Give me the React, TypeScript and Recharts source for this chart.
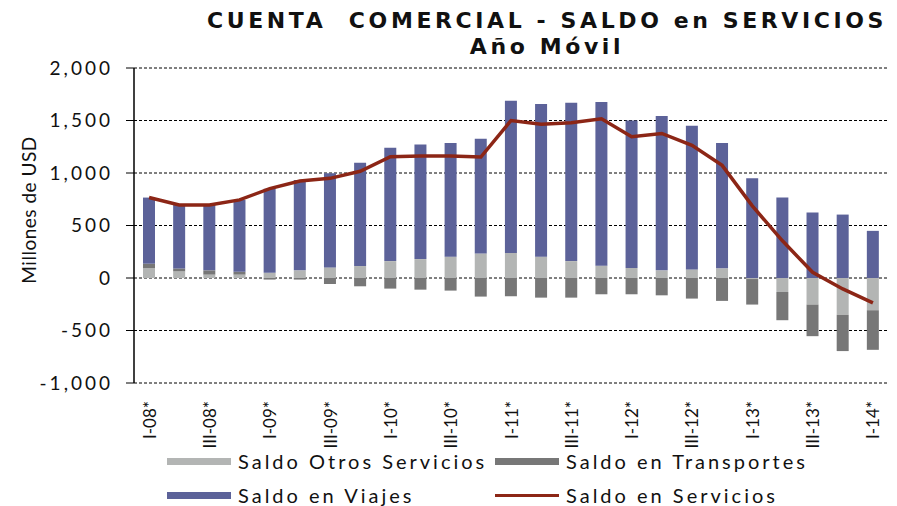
import React from "react"
import { ComposedChart, Bar, Line, XAxis, YAxis, CartesianGrid } from "recharts"

const quarters = [
  "I-08*", "II-08", "III-08*", "IV-08",
  "I-09*", "II-09", "III-09*", "IV-09",
  "I-10*", "II-10", "III-10*", "IV-10",
  "I-11*", "II-11", "III-11*", "IV-11",
  "I-12*", "II-12", "III-12*", "IV-12",
  "I-13*", "II-13", "III-13*", "IV-13",
  "I-14*",
]

// millones de USD, año móvil
const otrosServicios = [95, 63, 32, 32, 50, 73, 101, 114, 161, 180, 203, 234, 237, 203, 161, 117, 95, 73, 82, 92, -10, -133, -253, -351, -307]
const transportes = [41, 28, 41, 28, -15, -15, -57, -79, -101, -111, -120, -177, -174, -187, -187, -155, -155, -165, -196, -218, -243, -269, -301, -345, -377]
const viajes = [630, 605, 623, 684, 801, 861, 896, 984, 1080, 1092, 1082, 1092, 1450, 1455, 1507, 1560, 1405, 1471, 1367, 1193, 949, 766, 623, 604, 449]
const servicios = [766, 696, 696, 744, 851, 924, 949, 1016, 1155, 1161, 1161, 1152, 1500, 1465, 1478, 1516, 1345, 1377, 1263, 1073, 687, 354, 54, -104, -237]

const yTicks = [-1000, -500, 0, 500, 1000, 1500, 2000]

const data = quarters.map((q, i) => ({
  name: q,
  otros: otrosServicios[i],
  transp: transportes[i],
  viajes: viajes[i],
  servicios: servicios[i],
}))

const LIGHT = "#b3b5b4"
const DARK = "#777777"
const BLUE = "#5c6299"
const RED = "#8c2616"
const FONT = "Lato, 'Open Sans', sans-serif"

const XTick = ({ x, y, payload }: any) => (
  <text
    x={x}
    y={y}
    transform={`rotate(-90, ${x}, ${y})`}
    textAnchor="end"
    dominantBaseline="central"
    fontSize={17}
    fontFamily={FONT}
    fill="#111"
  >
    {payload.value}
  </text>
)

const legendRows = [
  [
    { label: "Saldo Otros Servicios", color: LIGHT, line: false },
    { label: "Saldo en Transportes", color: DARK, line: false },
  ],
  [
    { label: "Saldo en Viajes", color: BLUE, line: false },
    { label: "Saldo en Servicios", color: RED, line: true },
  ],
]

export default function App() {
  return (
    <div style={{ position: "absolute", left: 0, top: 0, width: 897, height: 506, background: "#fff", fontFamily: FONT }}>
      <div
        style={{
          position: "absolute",
          left: 147,
          width: 800,
          top: 8,
          textAlign: "center",
          fontFamily: "'DejaVu Sans', sans-serif",
          fontWeight: 700,
          fontSize: 22,
          letterSpacing: 3.6,
          lineHeight: "26px",
          color: "#111",
        }}
      >
        CUENTA&nbsp; COMERCIAL - SALDO en SERVICIOS
        <br />
        Año Móvil
      </div>
      <div
        style={{
          position: "absolute",
          left: 28,
          top: 210,
          transform: "translate(-50%, -50%) rotate(-90deg)",
          fontSize: 19,
          letterSpacing: 0.5,
          whiteSpace: "nowrap",
          color: "#111",
        }}
      >
        Millones de USD
      </div>
      <ComposedChart
        width={897}
        height={506}
        data={data}
        stackOffset="sign"
        margin={{ top: 68, right: 9, bottom: 33, left: 0 }}
      >
        <CartesianGrid vertical={false} stroke="#000" strokeDasharray="3 2" strokeWidth={1} />
        <XAxis
          dataKey="name"
          interval={1}
          height={90}
          axisLine={false}
          tickLine={false}
          tickMargin={12}
          tick={<XTick />}
        />
        <YAxis
          width={134}
          domain={[-1000, 2000]}
          ticks={yTicks}
          axisLine={{ stroke: "#000", strokeWidth: 1.5 }}
          tickLine={{ stroke: "#000" }}
          tickSize={8}
          tickMargin={13}
          tick={{ fill: "#111", fontSize: 19, fontFamily: FONT, letterSpacing: 3 }}
          tickFormatter={(v: number) => v.toLocaleString("en-US")}
        />
        <Bar dataKey="otros" stackId="s" fill={LIGHT} barSize={12} isAnimationActive={false} />
        <Bar dataKey="transp" stackId="s" fill={DARK} barSize={12} isAnimationActive={false} />
        <Bar dataKey="viajes" stackId="s" fill={BLUE} barSize={12} isAnimationActive={false} />
        <Line dataKey="servicios" stroke={RED} strokeWidth={3.5} dot={false} type="linear" isAnimationActive={false} />
      </ComposedChart>
      {legendRows.map((row, r) =>
        row.map((item, c) => (
          <div
            key={item.label}
            style={{
              position: "absolute",
              left: c === 0 ? 167 : 495,
              top: r === 0 ? 451 : 485,
              height: 20,
              lineHeight: "20px",
              display: "flex",
              alignItems: "center",
              fontSize: 20,
              letterSpacing: 3,
              color: "#111",
              whiteSpace: "nowrap",
            }}
          >
            <span
              style={{
                display: "inline-block",
                width: 64,
                height: item.line ? 3 : 7,
                background: item.color,
                marginRight: 7,
              }}
            />
            {item.label}
          </div>
        ))
      )}
    </div>
  )
}
